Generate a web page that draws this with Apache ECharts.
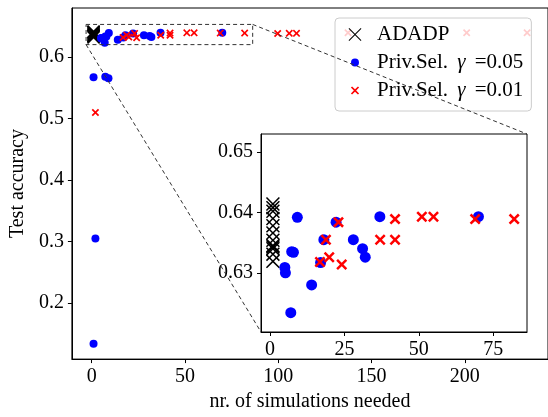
<!DOCTYPE html>
<html><head><meta charset="utf-8">
<script src="https://cdn.jsdelivr.net/npm/echarts@6/dist/echarts.min.js"></script>
<style>html,body{margin:0;padding:0;background:#fff}#c{width:548px;height:417px}</style>
</head><body><div id="c"></div>
<script>
// ---- data ----
const adadpX = [1, 1, 1, 1, 1, 1, 1, 1, 1, 1, 1, 1];
const adadpY = [0.6414, 0.6408, 0.6402, 0.6390, 0.6378, 0.6366, 0.6354, 0.6345, 0.6343, 0.6340, 0.6331, 0.6319];

const priv05X = [1, 7.3, 9.0, 2, 1, 9.2, 22.2, 36.9, 70, 18.1, 28, 31.1, 32, 7.3, 7.9, 5.0, 5.2, 17, 14, 7];
const priv05Y = [0.5671, 0.5680, 0.5656, 0.3053, 0.1343, 0.6392, 0.6384, 0.6393, 0.6393, 0.6355, 0.6355, 0.6340, 0.6326, 0.6335, 0.6334, 0.6309, 0.6300, 0.6317, 0.6280, 0.6234];

const priv01X = [2, 23, 42, 51, 54.9, 68.9, 82, 18.8, 37, 42, 19.9, 16.8, 24.1, 99.7, 105.9, 109.8, 137.4, 201, 233.4];
const priv01Y = [0.510, 0.6384, 0.6389, 0.6393, 0.6393, 0.6389, 0.6389, 0.6355, 0.6355, 0.6355, 0.6326, 0.6318, 0.6314, 0.6382, 0.6385, 0.6385, 0.6395, 0.6395, 0.6395];

const mainXTicks = [0, 50, 100, 150, 200];
const mainYTicks = [0.2, 0.3, 0.4, 0.5, 0.6];
const insetXTicks = [0, 25, 50, 75];
const insetYTicks = [0.63, 0.64, 0.65];

const seriesNames = ['ADADP', 'Priv.Sel. γ =0.05', 'Priv.Sel. γ =0.01'];

// ---- helpers ----
function xPath(c, pad) {
  const p = [[0,c],[c,0],[5,5-c],[10-c,0],[10,c],[5+c,5],[10,10-c],[10-c,10],[5,5+c],[c,10],[0,10-c],[5-c,5]];
  let s = 'path://';
  if (pad) s += 'M' + (-pad) + ',' + (-pad) + ' M' + (10 + pad) + ',' + (10 + pad) + ' ';
  s += 'M' + p.map(q => q[0] + ',' + q[1]).join(' L') + ' Z';
  return s;
}
function circlePath(pad) {
  return 'path://M' + (-pad) + ',' + (-pad) + ' M' + (10 + pad) + ',' + (10 + pad) +
    ' M0,5 A5,5 0 1,0 10,5 A5,5 0 1,0 0,5 Z';
}
const zip = (a, b) => a.map((v, i) => [v, b[i]]);

const FONT = 'Liberation Serif';
const blackX = xPath(0.78);
const redX = xPath(1.6);

function mkSeries(grid, sizes, z0) {
  return [
    { name: seriesNames[0], type: 'scatter', xAxisIndex: grid, yAxisIndex: grid, clip: true,
      symbol: blackX, symbolSize: sizes[0], itemStyle: { color: '#000', opacity: 1 },
      data: zip(adadpX, adadpY), z: z0, silent: true },
    { name: seriesNames[1], type: 'scatter', xAxisIndex: grid, yAxisIndex: grid, clip: true,
      symbol: 'circle', symbolSize: sizes[1], itemStyle: { color: '#0000ff', opacity: 1 },
      data: zip(priv05X, priv05Y), z: z0 + 1, silent: true },
    { name: seriesNames[2], type: 'scatter', xAxisIndex: grid, yAxisIndex: grid, clip: true,
      symbol: redX, symbolSize: sizes[2], itemStyle: { color: '#ff0000', opacity: 1 },
      data: zip(priv01X, priv01Y), z: z0 + 2, silent: true }
  ];
}

const insetRange = { xmin: -3, xmax: 86.3, ymin: 0.6202, ymax: 0.6530 };

function axisCommon(ticks, fmt, margin) {
  return {
    splitLine: { show: false },
    axisLine: { show: true, onZero: false, lineStyle: { color: '#000', width: 1 } },
    axisTick: { show: true, inside: false, length: 4, customValues: ticks, lineStyle: { color: '#000' } },
    axisLabel: { customValues: ticks, formatter: fmt, color: '#000', fontFamily: FONT, fontSize: 20, margin: margin }
  };
}

const chart = echarts.init(document.getElementById('c'), null, { renderer: 'canvas' });
const option = {
  animation: false,
  backgroundColor: '#fff',
  grid: [
    { left: 68, top: 8, width: 482, height: 360, show: true, borderColor: '#000', borderWidth: 1, backgroundColor: 'transparent', containLabel: false },
    { left: 261, top: 134, width: 266, height: 198, show: true, borderColor: '#000', borderWidth: 1, backgroundColor: '#fff', containLabel: false, z: 5 }
  ],
  xAxis: [
    Object.assign({ type: 'value', gridIndex: 0, min: -10.6, max: 244.6,
      name: 'nr. of simulations needed', nameLocation: 'middle', nameGap: 28,
      nameTextStyle: { fontFamily: FONT, fontSize: 20, color: '#000' } },
      axisCommon(mainXTicks, v => String(v), 8)),
    Object.assign({ type: 'value', gridIndex: 1, min: insetRange.xmin, max: insetRange.xmax, z: 6 },
      axisCommon(insetXTicks, v => String(v), 8))
  ],
  yAxis: [
    Object.assign({ type: 'value', gridIndex: 0, min: 0.1092, max: 0.6797,
      name: 'Test accuracy', nameLocation: 'middle', nameGap: 42, nameRotate: 90,
      nameTextStyle: { fontFamily: FONT, fontSize: 20, color: '#000' } },
      axisCommon(mainYTicks, v => v.toFixed(1), 8)),
    Object.assign({ type: 'value', gridIndex: 1, min: insetRange.ymin, max: insetRange.ymax, z: 6 },
      axisCommon(insetYTicks, v => v.toFixed(2), 8))
  ],
  legend: {
    orient: 'vertical', left: 335, top: 18,
    padding: [6, 8, 10, 11], itemGap: 7, itemWidth: 34, itemHeight: 18,
    backgroundColor: 'rgba(255,255,255,0.8)', borderColor: '#cccccc', borderWidth: 1, borderRadius: 4,
    selectedMode: false, z: 20,
    textStyle: { fontFamily: FONT, fontSize: 21, color: '#000', lineHeight: 18,
      rich: { n: { fontFamily: FONT, fontSize: 21, color: '#000', lineHeight: 18 },
              g: { fontFamily: FONT, fontSize: 21, fontStyle: 'italic', color: '#000', lineHeight: 18, padding: [0, 4, 0, 4] } } },
    formatter: function (name) {
      if (name === 'ADADP') return '{n|ADADP}';
      const parts = name.split('γ');
      return '{n|' + parts[0] + '}{g|γ}{n|' + parts[1] + '}';
    },
    data: [
      { name: seriesNames[0], icon: xPath(0.55, 2.0) },
      { name: seriesNames[1], icon: circlePath(6.3) },
      { name: seriesNames[2], icon: xPath(1.4, 6.0) }
    ]
  },
  series: [].concat(mkSeries(0, [13, 8, 7.5], 2), mkSeries(1, [14, 11, 11], 10))
};
chart.setOption(option);

// zoom indicator rectangle + connector lines, positioned through the axes' scales
const rLL = chart.convertToPixel({ gridIndex: 0 }, [insetRange.xmin, insetRange.ymin]);
const rUR = chart.convertToPixel({ gridIndex: 0 }, [insetRange.xmax, insetRange.ymax]);
const iLL = chart.convertToPixel({ gridIndex: 1 }, [insetRange.xmin, insetRange.ymin]);
const iUR = chart.convertToPixel({ gridIndex: 1 }, [insetRange.xmax, insetRange.ymax]);
const dashStyle = { stroke: '#333', lineWidth: 1, lineDash: [4, 3], fill: null };
chart.setOption({
  graphic: [
    { type: 'rect', z: 30, silent: true,
      shape: { x: rLL[0], y: rUR[1], width: rUR[0] - rLL[0], height: rLL[1] - rUR[1] },
      style: dashStyle },
    { type: 'line', z: 30, silent: true,
      shape: { x1: rLL[0], y1: rLL[1], x2: iLL[0], y2: iLL[1] }, style: dashStyle },
    { type: 'line', z: 30, silent: true,
      shape: { x1: rUR[0], y1: rUR[1], x2: iUR[0], y2: iUR[1] }, style: dashStyle }
  ]
});
</script>
</body></html>
